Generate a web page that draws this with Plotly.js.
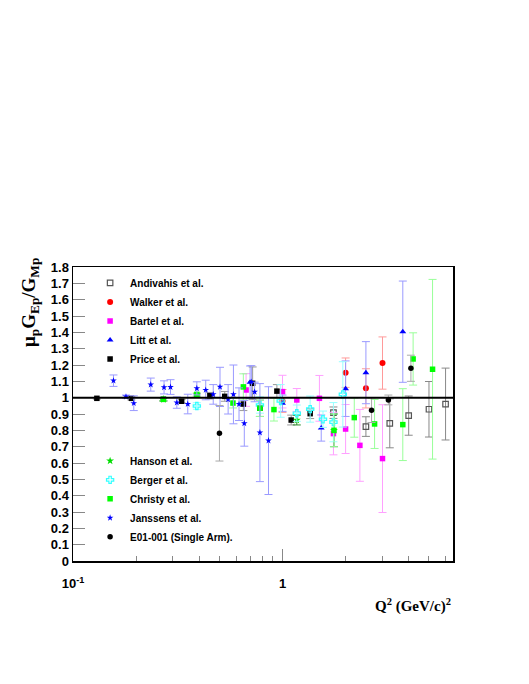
<!DOCTYPE html>
<html>
<head>
<meta charset="utf-8">
<script src="https://cdn.plot.ly/plotly-3.0.1.min.js"></script>
<style>
  body { margin: 0; background: #fff; }
  #chart { width: 529px; height: 684px; }
</style>
</head>
<body>
<div id="chart"></div>
<script>
// Andivahis et al.
const andQ = [1.75, 2.5, 3.25, 4.0, 5.0, 6.0];
const andR = [0.908, 0.823, 0.843, 0.89, 0.929, 0.961];
const andE = [0.035, 0.06, 0.15, 0.12, 0.17, 0.22];

// Walker et al.
const walQ = [1.0, 2.0, 2.5, 3.0];
const walR = [0.98, 1.153, 1.057, 1.212];
const walE = [0.07, 0.09, 0.12, 0.16];

// Bartel et al.
const barQ = [0.67, 1.0, 1.17, 1.5, 1.75, 2.0, 2.34, 3.0];
const barR = [1.047, 1.037, 0.986, 0.996, 0.78, 0.808, 0.708, 0.627];
const barE = [0.1, 0.1, 0.07, 0.14, 0.13, 0.15, 0.22, 0.33];

// Litt et al.
const litQ = [0.70, 1.0, 1.53, 2.0, 2.5, 3.75];
const litR = [1.094, 0.966, 0.814, 1.055, 1.153, 1.404];
const litE = [0.1, 0.05, 0.08, 0.17, 0.19, 0.31];

// Price et al.
const priQ = [0.13, 0.19, 0.27, 0.33, 0.39, 0.45, 0.53, 0.65, 0.72, 0.78, 0.94, 1.1, 1.355];
const priR = [0.996, 0.996, 0.99, 0.978, 1.015, 1.012, 1.008, 0.961, 1.088, 0.935, 1.04, 0.863, 0.902];
const priE = [0.005, 0.01, 0.01, 0.01, 0.01, 0.02, 0.03, 0.04, 0.1, 0.05, 0.04, 0.03, 0.03];

// Hanson et al.
const hanQ = [0.27, 1.17, 1.76];
const hanR = [0.99, 0.863, 0.80];
const hanE = [0.01, 0.03, 0.1];

// Berger et al.
const berQ = [0.39, 0.78, 0.98, 1.17, 1.355, 1.56, 1.75, 1.94];
const berR = [0.949, 0.955, 0.98, 0.905, 0.93, 0.868, 0.85, 1.02];
const berE = [0.02, 0.05, 0.1, 0.05, 0.08, 0.05, 0.12, 0.2];

// Christy et al.
const chrQ = [0.27, 0.39, 0.58, 0.65, 0.78, 0.91, 1.76, 2.2, 2.75, 3.75, 4.2, 5.2];
const chrR = [0.99, 1.02, 0.967, 1.066, 0.935, 0.927, 0.80, 0.878, 0.839, 0.835, 1.237, 1.174];
const chrE = [0.01, 0.01, 0.03, 0.08, 0.05, 0.07, 0.1, 0.12, 0.15, 0.22, 0.16, 0.55];

// Janssens et al.
const janQ = [0.156, 0.179, 0.195, 0.235, 0.272, 0.292, 0.313, 0.353, 0.39, 0.43,
              0.467, 0.503, 0.55, 0.583, 0.62, 0.657, 0.71, 0.736, 0.78, 0.857];
const janR = [1.104, 1.006, 0.966, 1.08, 1.063, 1.065, 0.97, 0.961, 1.057, 1.047,
              1.02, 1.066, 0.99, 1.02, 0.96, 0.843, 1.096, 1.035, 0.786, 0.737];
const janE = [0.035, 0.01, 0.045, 0.04, 0.04, 0.045, 0.035, 0.06, 0.04, 0.06,
              0.06, 0.12, 0.09, 0.18, 0.1, 0.14, 0.1, 0.06, 0.3, 0.33];

// E01-001 (Single Arm)
const e01Q = [0.5, 2.66, 3.2, 4.1];
const e01R = [0.782, 0.923, 0.986, 1.18];
const e01E = [0.17, 0.075, 0.03, 0.08];

function series(name, q, r, e, symbol, color, errColor, size, legend) {
    return {
        x: q, y: r, name: name, type: 'scatter', mode: 'markers',
        legend: legend,
        marker: { symbol: symbol, color: color, size: size, line: { width: symbol.indexOf('open') >= 0 ? 1.2 : 0, color: color } },
        error_y: { type: 'data', array: e, visible: true, color: errColor, thickness: 1, width: 4 }
    };
}

const data = [
    series('Andivahis et al.', andQ, andR, andE, 'square-open', '#555555', '#888888', 5.5, 'legend'),
    series('Walker et al.', walQ, walR, walE, 'circle', '#ff0000', '#ff9a9a', 6, 'legend'),
    series('Bartel et al.', barQ, barR, barE, 'square', '#ff00ff', '#ffa0ff', 5.5, 'legend'),
    series('Litt et al.', litQ, litR, litE, 'triangle-up', '#0000ff', '#9a9aff', 6, 'legend'),
    series('Price et al.', priQ, priR, priE, 'square', '#000000', '#999999', 5.5, 'legend'),
    series('Hanson et al.', hanQ, hanR, hanE, 'star', '#00dd00', '#2a8a2a', 6, 'legend2'),
    series('Berger et al.', berQ, berR, berE, 'cross-open', '#33ffff', '#99ffff', 6, 'legend2'),
    series('Christy et al.', chrQ, chrR, chrE, 'square', '#00ff00', '#99ff99', 5.5, 'legend2'),
    series('Janssens et al.', janQ, janR, janE, 'star', '#0000ff', '#9a9aff', 5, 'legend2'),
    series('E01-001 (Single Arm).', e01Q, e01R, e01E, 'circle', '#000000', '#aaaaaa', 5.5, 'legend2')
];

const tickFont = { family: 'Liberation Sans, Arial, sans-serif', size: 13, color: '#000', weight: 'bold' };
const legFont = { family: 'Liberation Sans, Arial, sans-serif', size: 10, color: '#000', weight: 'bold' };

const layout = {
    width: 529, height: 684,
    margin: { l: 73, r: 76, t: 267, b: 123 },
    paper_bgcolor: '#fff', plot_bgcolor: '#fff',
    showlegend: true,
    xaxis: {
        type: 'log', range: [-1, 0.8136],
        showgrid: false, zeroline: false,
        showline: true, mirror: true, linecolor: '#000', linewidth: 1.5,
        tickmode: 'array', tickvals: [0.1, 1], ticktext: ['10<sup>-1</sup>', '1'],
        ticks: 'inside', ticklen: 12, tickcolor: '#888', tickwidth: 1,
        ticklabelstandoff: 10,
        tickfont: tickFont,
        minor: {
            tickmode: 'array',
            tickvals: [0.2, 0.3, 0.4, 0.5, 0.6, 0.7, 0.8, 0.9, 2, 3, 4, 5, 6],
            ticks: 'inside', ticklen: 5, tickcolor: '#888', tickwidth: 1, showgrid: false
        }
    },
    yaxis: {
        range: [0, 1.8],
        showgrid: false, zeroline: false,
        showline: true, mirror: true, linecolor: '#000', linewidth: 1.5,
        tickmode: 'linear', tick0: 0, dtick: 0.1, tickformat: '~g',
        ticks: 'inside', ticklen: 12, tickcolor: '#888', tickwidth: 1,
        tickfont: tickFont
    },
    shapes: [{
        type: 'line', xref: 'paper', x0: 0, x1: 1, yref: 'y', y0: 1, y1: 1,
        line: { color: '#000', width: 2 }
    }],
    legend: {
        x: 0.045, y: 0.995, xanchor: 'left', yanchor: 'top',
        bgcolor: 'rgba(0,0,0,0)', font: legFont, traceorder: 'normal'
    },
    legend2: {
        x: 0.045, y: 0.39, xanchor: 'left', yanchor: 'top',
        bgcolor: 'rgba(0,0,0,0)', font: legFont, traceorder: 'normal'
    },
    annotations: [
        {
            xref: 'paper', yref: 'paper', x: -0.113, y: 0.878,
            xanchor: 'center', yanchor: 'middle', textangle: -90, showarrow: false,
            text: '\u03bc<sub>p</sub>G<sub>Ep</sub>/G<sub>Mp</sub>',
            font: { family: 'Liberation Serif, Times New Roman, serif', size: 19, color: '#000', weight: 'bold' }
        },
        {
            xref: 'paper', yref: 'paper', x: 1, y: -0.15,
            xanchor: 'right', yanchor: 'middle', showarrow: false,
            text: 'Q<sup>2</sup> (GeV/c)<sup>2</sup>',
            font: { family: 'Liberation Serif, Times New Roman, serif', size: 15, color: '#000', weight: 'bold' }
        }
    ]
};

Plotly.newPlot('chart', data, layout, { displayModeBar: false, staticPlot: true });
</script>
</body>
</html>
